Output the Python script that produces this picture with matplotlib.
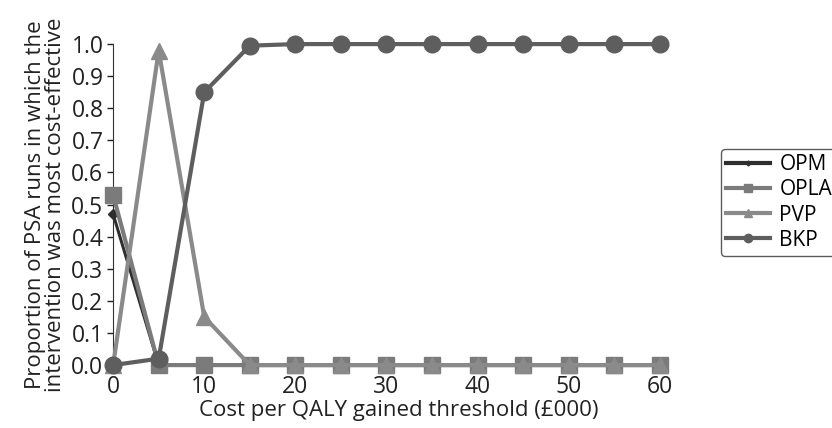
import matplotlib
matplotlib.use("Agg")
import matplotlib.pyplot as plt

plt.rcParams['font.family'] = ['Open Sans', 'DejaVu Sans']

thresholds = [0, 5, 10, 15, 20, 25, 30, 35, 40, 45, 50, 55, 60]
opm = [0.47, 0.0, 0, 0, 0, 0, 0, 0, 0, 0, 0, 0, 0]
opla = [0.53, 0.0, 0, 0, 0, 0, 0, 0, 0, 0, 0, 0, 0]
pvp = [0.0, 0.98, 0.15, 0.0, 0, 0, 0, 0, 0, 0, 0, 0, 0]
bkp = [0.0, 0.02, 0.85, 0.995, 1.0, 1.0, 1.0, 1.0, 1.0, 1.0, 1.0, 1.0, 1.0]

y_ticks = [0.0, 0.1, 0.2, 0.3, 0.4, 0.5, 0.6, 0.7, 0.8, 0.9, 1.0]
x_ticks = [0, 10, 20, 30, 40, 50, 60]

fig = plt.figure(figsize=(8.32, 4.28), dpi=100)
ax = fig.add_axes([0.136, 0.147, 0.657, 0.75])

ax.plot(thresholds, opm, color='#2e2e2e', lw=2.2, marker='D', ms=5, label='OPM', zorder=3)
ax.plot(thresholds, opla, color='#7b7b7b', lw=3, marker='s', ms=11, label='OPLA', zorder=4)
ax.plot(thresholds, pvp, color='#8a8a8a', lw=3, marker='^', ms=11, label='PVP', zorder=5)
ax.plot(thresholds, bkp, color='#5e5e5e', lw=3, marker='o', ms=12, label='BKP', zorder=6)

ax.set_xlim(0, 60)
ax.set_ylim(0, 1.0)
ax.set_xticks(x_ticks)
ax.set_yticks(y_ticks)
ax.set_yticklabels([f"{v:.1f}" for v in y_ticks])
ax.tick_params(axis='both', labelsize=16.5, colors='#222222')
ax.tick_params(axis='x', length=0, pad=7)
ax.tick_params(axis='y', length=4, width=1, pad=3)
for side in ['top', 'right', 'bottom']:
    ax.spines[side].set_visible(False)
ax.spines['left'].set_color('#333333')
for s in ax.spines.values():
    s.set_clip_on(False)
for line in ax.lines:
    line.set_clip_on(False)

ax.set_xlabel('Cost per QALY gained threshold (£000)', fontsize=16, color='#222222', labelpad=1)
ax.xaxis.label.set_x(0.522)
ax.set_ylabel('Proportion of PSA runs in which the\nintervention was most cost-effective',
              fontsize=16, color='#222222', labelpad=4, linespacing=0.95)

leg = ax.legend(loc='upper left', bbox_to_anchor=(721 / 832, 1 - 149 / 428),
                bbox_transform=fig.transFigure, borderaxespad=0, fontsize=15,
                frameon=True, fancybox=True, edgecolor='#333333', handlelength=2.1,
                handletextpad=0.45, borderpad=0.25, labelspacing=0.2, markerscale=0.5)
leg.get_frame().set_linewidth(1.0)
for h in leg.legend_handles:
    h.set_linewidth(3)

fig.savefig('out.png', dpi=100, facecolor='white')
